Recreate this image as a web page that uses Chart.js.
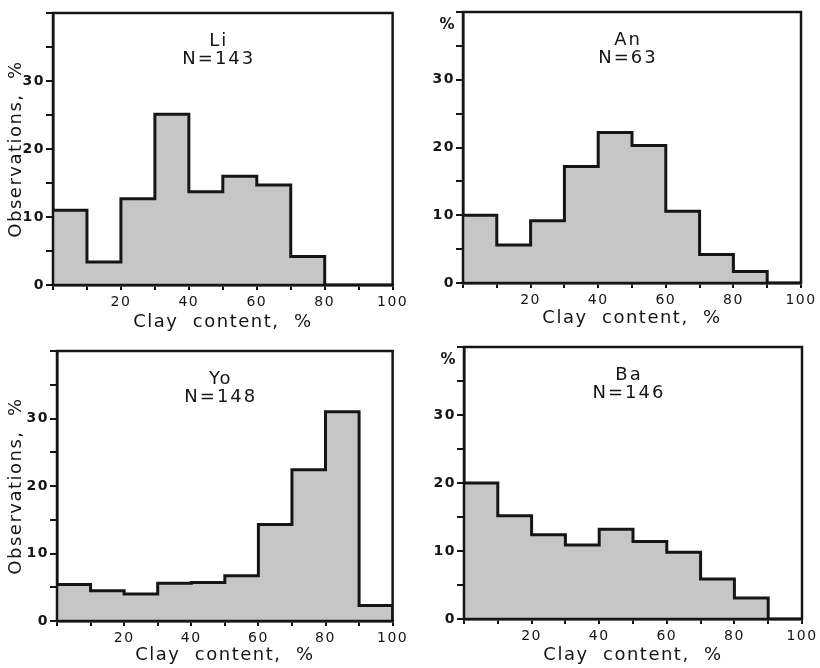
<!DOCTYPE html>
<html>
<head>
<meta charset="utf-8">
<script src="https://cdn.jsdelivr.net/npm/chart.js@4/dist/chart.umd.min.js"></script>
<style>
  body { margin: 0; background: #fff; }
  #wrap { position: relative; width: 820px; height: 668px; }
  canvas { position: absolute; }
</style>
</head>
<body>
<div id="wrap">
  <canvas id="c-li" width="410" height="334" style="left:0;top:0"></canvas>
  <canvas id="c-an" width="410" height="334" style="left:410px;top:0"></canvas>
  <canvas id="c-yo" width="410" height="334" style="left:0;top:334px"></canvas>
  <canvas id="c-ba" width="410" height="334" style="left:410px;top:334px"></canvas>
</div>
<script>
// clay content classes, left edge of each 10 % bin
const binEdges = [0, 10, 20, 30, 40, 50, 60, 70, 80, 90];
const xTickLabels = [20, 40, 60, 80, 100];
const yTickLabels = [0, 10, 20, 30];

// observations, % per bin
const liValues = [11.0, 3.4, 12.7, 25.1, 13.7, 16.0, 14.7, 4.2, 0, 0];
const anValues = [10.0, 5.6, 9.2, 17.2, 22.2, 20.3, 10.6, 4.2, 1.7, 0];
const yoValues = [5.4, 4.5, 4.0, 5.6, 5.7, 6.7, 14.3, 22.4, 31.0, 2.3];
const baValues = [20.0, 15.2, 12.4, 10.9, 13.2, 11.4, 9.8, 5.9, 3.1, 0];

const FONT = "'DejaVu Sans', sans-serif";
const INK = "#151515";
const FILL = "#c6c6c6";

// frame + in-panel labels
const panelPlugin = {
  id: "panel",
  beforeDraw(chart) {
    chart.ctx.letterSpacing = "1.5px";
  },
  afterDraw(chart, args, opts) {
    const { ctx, chartArea: a } = chart;
    ctx.save();
    ctx.strokeStyle = INK;
    ctx.lineWidth = 2.5;
    ctx.strokeRect(a.left, a.top, a.right - a.left, a.bottom - a.top);
    ctx.fillStyle = INK;
    ctx.textAlign = "center";
    ctx.textBaseline = "middle";
    ctx.font = "18px " + FONT;
    ctx.letterSpacing = "2px";
    const cx = (a.left + a.right) / 2 - 4;
    ctx.fillText(opts.name, cx, a.top + 28);
    ctx.fillText(opts.n, cx, a.top + 46);
    if (opts.unit) {
      ctx.font = "bold 15px " + FONT;
      ctx.letterSpacing = "0px";
      ctx.fillText("%", a.left - 16, a.top + 13);
    }
    ctx.restore();
  }
};

function makePanel(id, values, name, n, opt) {
  const points = binEdges.map((b, i) => ({ x: b, y: values[i] }));
  points.push({ x: 100, y: 0 });

  return new Chart(document.getElementById(id), {
    type: "line",
    data: {
      datasets: [{
        data: points,
        stepped: true,
        borderColor: INK,
        borderWidth: 3,
        backgroundColor: FILL,
        fill: "origin",
        pointRadius: 0,
      }],
    },
    options: {
      responsive: false,
      animation: false,
      events: [],
      layout: { padding: { top: opt.top, right: opt.right, left: 0, bottom: 0 } },
      plugins: {
        legend: { display: false },
        tooltip: { enabled: false },
        panel: { name, n, unit: opt.unit },
      },
      scales: {
        x: {
          type: "linear",
          min: 0,
          max: 100,
          afterFit: s => { s.height = opt.xh; },
          ticks: {
            stepSize: 10,
            autoSkip: false,
            maxRotation: 0,
            padding: 4,
            color: INK,
            font: { family: FONT, size: 14 },
            callback: v => xTickLabels.includes(v) ? String(v) : "",
          },
          grid: { drawOnChartArea: false, tickLength: 5, color: INK, lineWidth: 2 },
          border: { color: INK, width: 2.5 },
          title: {
            display: true,
            text: "Clay  content,  %",
            color: INK,
            font: { family: FONT, size: 18 },
            padding: { top: 0, bottom: opt.xtPad },
          },
        },
        y: {
          min: 0,
          max: 40,
          afterFit: s => { s.width = opt.yw; },
          ticks: {
            stepSize: 5,
            autoSkip: false,
            padding: 1,
            color: INK,
            font: { family: FONT, size: 14, weight: "bold" },
            callback: v => yTickLabels.includes(v) ? String(v) : "",
          },
          grid: { drawOnChartArea: false, tickLength: 7, color: INK, lineWidth: 2 },
          border: { color: INK, width: 2.5 },
          title: {
            display: !opt.unit,
            text: "Observations,  %",
            color: INK,
            font: { family: FONT, size: 18 },
            padding: { top: 6, bottom: 0 },
          },
        },
      },
    },
    plugins: [panelPlugin],
  });
}

makePanel("c-li", liValues, "Li", "N=143", { top: 13, right: 16, yw: 53, xh: 49, xtPad: 1 });
makePanel("c-an", anValues, "An", "N=63", { top: 12, right: 19, yw: 53, xh: 51, xtPad: 5, unit: true });
makePanel("c-yo", yoValues, "Yo", "N=148", { top: 17, right: 14, yw: 57, xh: 47, xtPad: 2 });
makePanel("c-ba", baValues, "Ba", "N=146", { top: 13, right: 18, yw: 54, xh: 49, xtPad: 2, unit: true });
</script>
</body>
</html>
